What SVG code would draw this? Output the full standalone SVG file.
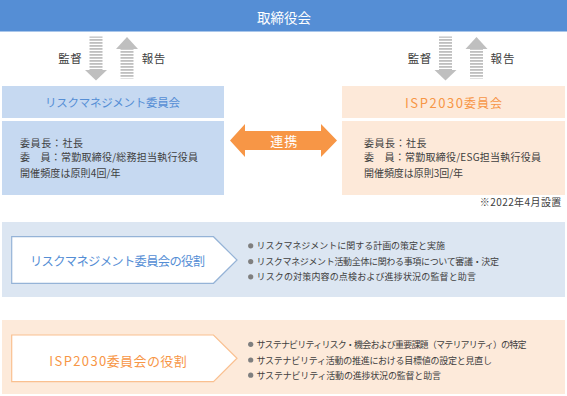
<svg xmlns="http://www.w3.org/2000/svg" width="567" height="396" viewBox="0 0 567 396">
<style>
text{font-family:"Noto Sans CJK JP","Noto Sans",sans-serif;}
.title{font-size:13.5px;fill:#ffffff;text-anchor:middle;dominant-baseline:central;}
.lbl{font-size:11.5px;fill:#404040;text-anchor:middle;dominant-baseline:central;}
.hdrB{font-size:11.5px;fill:#558ED5;text-anchor:middle;dominant-baseline:central;}
.hdrO{font-size:12px;fill:#F79646;dominant-baseline:central;}
.body{font-size:10px;fill:#404040;dominant-baseline:central;}
.note{font-size:10px;fill:#404040;text-anchor:end;dominant-baseline:central;}
.roleB{font-size:12.3px;fill:#558ED5;text-anchor:middle;dominant-baseline:central;}
.roleO{font-size:13px;fill:#F79646;dominant-baseline:central;}
.bul{font-size:9px;fill:#404040;dominant-baseline:central;}
.dot{fill:#7F7F7F;}
.head{fill:#BFBFBF;}
.shaft{fill:url(#stripes);}
.link{fill:#F79646;}
.linkTxt{font-size:13px;fill:#ffffff;text-anchor:middle;dominant-baseline:central;}
</style>
<defs>
<pattern id="stripes" patternUnits="userSpaceOnUse" width="10" height="3">
<rect x="0" y="0" width="10" height="3" fill="#ffffff"/>
<rect x="0" y="0" width="10" height="1.8" fill="#BFBFBF"/>
</pattern>
</defs>
<rect width="567" height="396" fill="#ffffff"/>

<g id="board">
<rect x="0" y="0" width="567" height="31.5" fill="#558ED5"/>
<text class="title" x="284" y="16.5" textLength="54">取締役会</text>
</g>

<g id="risk-committee">
<rect x="2" y="86" width="222" height="32" fill="#C6D9F1"/>
<text class="hdrB" x="112.5" y="102" textLength="135">リスクマネジメント委員会</text>
<rect x="2" y="121" width="222" height="74" fill="#C6D9F1"/>
<text class="body" x="20" y="142.7" textLength="63">委員長：社長</text>
<text class="body" x="20" y="156.7" textLength="178">委　員：常勤取締役/総務担当執行役員</text>
<text class="body" x="20" y="172.7" textLength="100.5">開催頻度は原則4回/年</text>
</g>

<g id="isp-committee">
<rect x="342" y="86" width="223" height="32" fill="#FDE9D9"/>
<text class="hdrO" y="102"><tspan x="405" textLength="58" style="font-size:13px">ISP2030</tspan><tspan x="464" textLength="38">委員会</tspan></text>
<rect x="342" y="121" width="223" height="74" fill="#FDE9D9"/>
<text class="body" x="364" y="142.7" textLength="62.5">委員長：社長</text>
<text class="body" x="364" y="156.7" textLength="177">委　員：常勤取締役/ESG担当執行役員</text>
<text class="body" x="364" y="172.7" textLength="99">開催頻度は原則3回/年</text>
<text class="note" x="561.3" y="201.7" textLength="81.5">※2022年4月設置</text>
</g>

<g id="connectors">
<g id="risk-supervise">
<rect class="shaft" x="89.5" y="36.5" width="13" height="33.5"/>
<polygon class="head" points="85,70 107,70 96,80.5"/>
<text class="lbl" x="70" y="58" textLength="23.5">監督</text>
</g>
<g id="risk-report">
<polygon class="head" points="116,49 138,49 127,37"/>
<rect class="shaft" x="120.5" y="49" width="13" height="29.5"/>
<text class="lbl" x="153.5" y="58" textLength="23.5">報告</text>
</g>
<g id="isp-supervise">
<rect class="shaft" x="439" y="36.5" width="13" height="33.5"/>
<polygon class="head" points="434.5,70 456.5,70 445.5,80.5"/>
<text class="lbl" x="419.5" y="58" textLength="23.5">監督</text>
</g>
<g id="isp-report">
<polygon class="head" points="465.5,49 487.5,49 476.5,37"/>
<rect class="shaft" x="470" y="49" width="13" height="29.5"/>
<text class="lbl" x="502.5" y="58" textLength="24">報告</text>
</g>
<g id="link">
<polygon class="link" points="230,140.5 245,124 245,131 321,131 321,124 337,140.5 321,157 321,150 245,150 245,157"/>
<text class="linkTxt" x="283.7" y="140.5" textLength="27">連携</text>
</g>
</g>

<g id="risk-role">
<rect x="2" y="222" width="563" height="75" fill="#DCE6F2"/>
<polygon points="11.7,236.7 213.5,236.7 237,260 213.5,283.3 11.7,283.3" fill="#ffffff" stroke="#95B3D7" stroke-width="1.2"/>
<text class="roleB" x="117.5" y="261" textLength="175">リスクマネジメント委員会の役割</text>
<circle class="dot" cx="250.7" cy="245.8" r="2.6"/>
<text class="bul" x="256.5" y="245.8" textLength="188.5">リスクマネジメントに関する計画の策定と実施</text>
<circle class="dot" cx="250.7" cy="261.6" r="2.6"/>
<text class="bul" x="256.5" y="261.6" textLength="242.5">リスクマネジメント活動全体に関わる事項について審議・決定</text>
<circle class="dot" cx="250.7" cy="276.8" r="2.6"/>
<text class="bul" x="256.5" y="276.8" textLength="219.5">リスクの対策内容の点検および進捗状況の監督と助言</text>
</g>

<g id="isp-role">
<rect x="2" y="320" width="563" height="74" fill="#FDEADA"/>
<polygon points="11.7,335 213.5,335 237,358.3 213.5,381.7 11.7,381.7" fill="#ffffff" stroke="#FAC090" stroke-width="1.2"/>
<text class="roleO" y="360"><tspan x="49.3" textLength="57">ISP2030</tspan><tspan x="106.7" textLength="80">委員会の役割</tspan></text>
<circle class="dot" cx="250.7" cy="344.3" r="2.6"/>
<text class="bul" x="256.5" y="344.3" textLength="270">サステナビリティリスク・機会および重要課題（マテリアリティ）の特定</text>
<circle class="dot" cx="250.7" cy="360" r="2.6"/>
<text class="bul" x="256.5" y="360" textLength="235.5">サステナビリティ活動の推進における目標値の設定と見直し</text>
<circle class="dot" cx="250.7" cy="375.2" r="2.6"/>
<text class="bul" x="256.5" y="375.2" textLength="184.5">サステナビリティ活動の進捗状況の監督と助言</text>
</g>
</svg>
